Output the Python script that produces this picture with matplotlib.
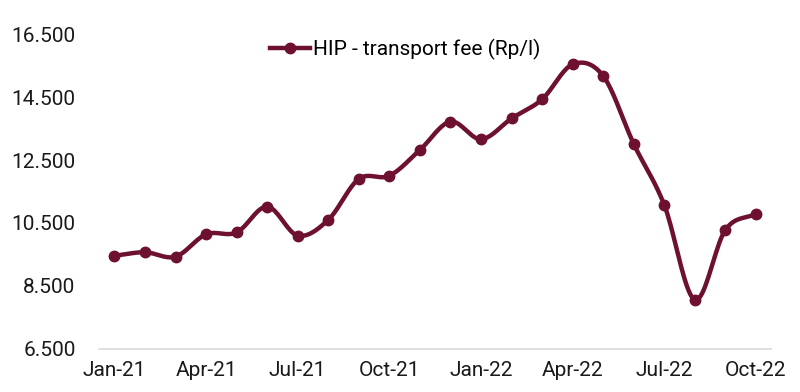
import numpy as np
import matplotlib
matplotlib.use("Agg")
import matplotlib.pyplot as plt
from matplotlib.ticker import FuncFormatter
from matplotlib.lines import Line2D

months = ["Jan-21", "Feb-21", "Mar-21", "Apr-21", "May-21", "Jun-21",
          "Jul-21", "Aug-21", "Sep-21", "Oct-21", "Nov-21", "Dec-21",
          "Jan-22", "Feb-22", "Mar-22", "Apr-22", "May-22", "Jun-22",
          "Jul-22", "Aug-22", "Sep-22", "Oct-22"]
fee = [9460, 9570, 9430, 10140, 10200, 11020,
       10100, 10600, 11900, 12000, 12820, 13720,
       13160, 13820, 14430, 15540, 15170, 13010,
       11070, 8060, 10280, 10790]

color = "#6E1030"
plt.rcParams["font.family"] = ["Roboto", "DejaVu Sans"]


def catmull_rom(x, y, n=20):
    # smooth curve through every point, like Excel's "smoothed line"
    x = np.asarray(x, float)
    y = np.asarray(y, float)
    px = np.concatenate([[2 * x[0] - x[1]], x, [2 * x[-1] - x[-2]]])
    py = np.concatenate([[2 * y[0] - y[1]], y, [2 * y[-1] - y[-2]]])
    xs, ys = [], []
    t = np.linspace(0, 1, n, endpoint=False)
    for i in range(1, len(px) - 2):
        for p, out in ((px, xs), (py, ys)):
            p0, p1, p2, p3 = p[i - 1], p[i], p[i + 1], p[i + 2]
            out.append(0.5 * (2 * p1 + (-p0 + p2) * t
                              + (2 * p0 - 5 * p1 + 4 * p2 - p3) * t ** 2
                              + (-p0 + 3 * p1 - 3 * p2 + p3) * t ** 3))
    xs.append([x[-1]])
    ys.append([y[-1]])
    return np.concatenate(xs), np.concatenate(ys)


x = np.arange(len(months))
sx, sy = catmull_rom(x, fee)

fig = plt.figure(figsize=(8, 3.92), dpi=100)
ax = fig.add_axes([0.124, 0.110, 0.840, 0.803])

ax.plot(sx, sy, color=color, lw=3.2, solid_capstyle="round", zorder=2)
ax.plot(x, fee, "o", color=color, ms=7.5, zorder=3)

ax.set_xlim(-0.5, len(months) - 0.5)
ax.set_ylim(6500, 16500)
ax.set_yticks(np.arange(6500, 16501, 2000))
ax.yaxis.set_major_formatter(FuncFormatter(lambda v, p: f"{int(v):,}".replace(",", ".")))
ax.set_xticks(x[::3])
ax.set_xticklabels(months[::3])

for s in ["top", "right", "left"]:
    ax.spines[s].set_visible(False)
ax.spines["bottom"].set_color("#d9d9d9")
ax.spines["bottom"].set_linewidth(1.2)
ax.tick_params(axis="both", length=0, labelsize=15, colors="#1a1a1a")
ax.tick_params(axis="x", pad=9)
ax.tick_params(axis="y", pad=17)

handle = Line2D([], [], color=color, lw=3.2, marker="o", ms=7.5)
ax.legend([handle], ["HIP - transport fee (Rp/l)"], loc="upper center",
          bbox_to_anchor=(0.455, 1.045), frameon=False, fontsize=15,
          handlelength=1.9, handletextpad=0.15)

fig.savefig("out.png", dpi=100)
